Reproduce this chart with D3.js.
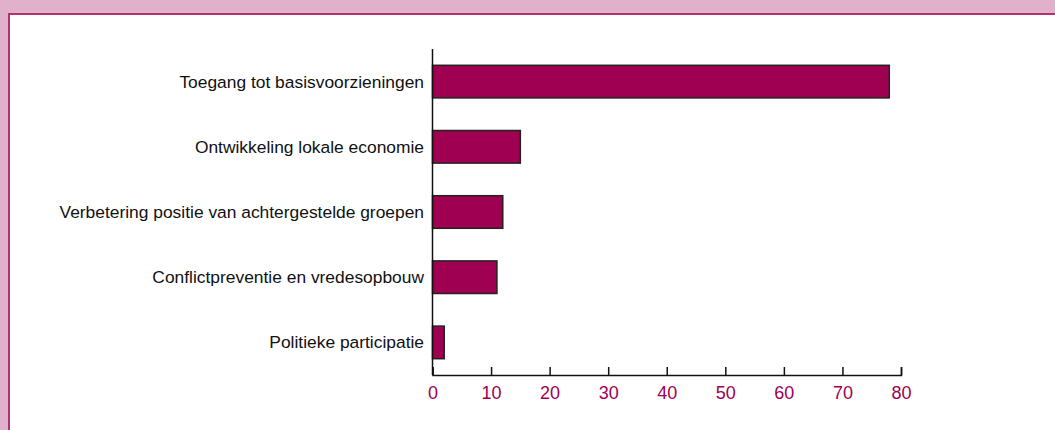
<!DOCTYPE html>
<html>
<head>
<meta charset="utf-8">
<script src="https://cdn.jsdelivr.net/npm/d3@7"></script>
<style>
  body { margin: 0; background: #e1b1cc; }
  svg { display: block; }
</style>
</head>
<body>
<svg></svg>
<script>
const categories = [
  "Toegang tot basisvoorzieningen",
  "Ontwikkeling lokale economie",
  "Verbetering positie van achtergestelde groepen",
  "Conflictpreventie en vredesopbouw",
  "Politieke participatie"
];
const values = [78, 15, 12, 11, 2];
const tickValues = [0, 10, 20, 30, 40, 50, 60, 70, 80];

const width = 1055, height = 430;
const svg = d3.select("svg").attr("width", width).attr("height", height);

// white panel with magenta border on left and top
svg.append("rect").attr("x", 0).attr("y", 0).attr("width", width).attr("height", height).attr("fill", "#e1b1cc");
svg.append("rect").attr("x", 9).attr("y", 14).attr("width", width).attr("height", height).attr("fill", "white");
svg.append("path").attr("d", "M9,430 V14 H1055").attr("fill", "none").attr("stroke", "#b3336f").attr("stroke-width", 2);

const x = d3.scaleLinear().domain([0, 80]).range([432.5, 901]);
const y = d3.scaleBand().domain(categories).range([49, 375]).paddingInner(0.5).paddingOuter(0.25);

svg.selectAll("rect.bar")
  .data(values)
  .enter().append("rect")
  .attr("class", "bar")
  .attr("x", x(0))
  .attr("y", (d, i) => y(categories[i]))
  .attr("width", d => x(d) - x(0))
  .attr("height", y.bandwidth())
  .attr("fill", "#a00052")
  .attr("stroke", "#222")
  .attr("stroke-width", 1.5);

// y axis line + labels
svg.append("line").attr("x1", x(0)).attr("x2", x(0)).attr("y1", 49).attr("y2", 375)
  .attr("stroke", "#111").attr("stroke-width", 1.5);

svg.selectAll("text.cat")
  .data(categories)
  .enter().append("text")
  .attr("class", "cat")
  .attr("x", 424)
  .attr("y", d => y(d) + y.bandwidth() / 2)
  .attr("dy", "0.35em")
  .attr("text-anchor", "end")
  .attr("font-family", "Liberation Sans, Arial, sans-serif")
  .attr("font-size", 17.4)
  .attr("fill", "#111")
  .text(d => d);

// x axis
const xAxis = svg.append("g")
  .attr("transform", "translate(0,375)")
  .call(d3.axisBottom(x).tickValues(tickValues).tickSize(-8).tickPadding(11));
xAxis.select(".domain").attr("stroke", "#111").attr("stroke-width", 1.5);
xAxis.selectAll(".tick line").attr("stroke", "#111").attr("stroke-width", 1.5);
xAxis.selectAll(".tick text")
  .attr("font-family", "Liberation Sans, Arial, sans-serif")
  .attr("font-size", 18)
  .attr("fill", "#a00052");
</script>
</body>
</html>
